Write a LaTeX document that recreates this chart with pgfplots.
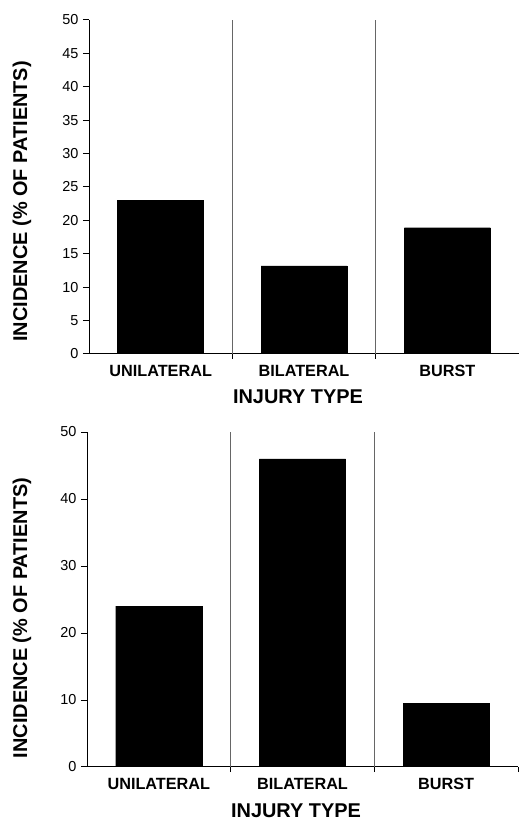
\documentclass[border=0pt]{standalone}
\usepackage{pgfplots}
\pgfplotsset{compat=1.18}
\usepackage{fontspec}
\setmainfont{Liberation Sans}

\pgfplotsset{
  myaxis/.style={
    scale only axis, anchor=south west,
    axis lines*=left,
    axis line style={line width=1bp, black},
    ybar, bar width=0.6,
    xmin=0.5, xmax=3.5, ymin=0, ymax=50,
    xtick={1,2,3},
    xticklabels={UNILATERAL,BILATERAL,BURST},
    major x tick style={draw=none},
    minor xtick={1.5,2.5,3.5},
    minor x tick style={draw=black, line width=1bp},
    minor tick length=5bp,
    extra x ticks={1.5,2.5},
    extra x tick labels={},
    extra x tick style={grid=major, major grid style={black!60, line width=0.6bp}},
    tick align=outside,
    major tick length=6bp,
    major y tick style={black, line width=1bp},
    /pgf/number format/assume math mode=true,
    yticklabel style={font=\fontsize{14.5}{16}\selectfont, xshift=-1bp},
    xticklabel style={font=\bfseries\fontsize{16.3}{19}\selectfont, yshift=-2bp},
    xlabel={INJURY TYPE},
    ylabel={INCIDENCE (\% OF PATIENTS)},
    xlabel style={font=\bfseries\fontsize{20}{24}\selectfont, anchor=center},
    ylabel style={font=\bfseries\fontsize{20}{24}\selectfont, anchor=center},
  }
}

\begin{document}
\begin{tikzpicture}
\path[use as bounding box] (0bp,0bp) rectangle (519bp,822bp);

% Top panel
\begin{axis}[myaxis,
  at={(89bp,468bp)}, width=430bp, height=334bp,
  ytick={0,5,10,15,20,25,30,35,40,45,50},
  xlabel style={at={(axis description cs:0.486,-0.129)}},
  ylabel style={at={(axis description cs:-0.156,0.457)}},
]
\addplot[fill=black, draw=black] coordinates {(1,23.0) (2,13.2) (3,18.9)};
\end{axis}

% Bottom panel
\begin{axis}[myaxis,
  at={(87bp,55bp)}, width=431bp, height=335bp,
  ytick={0,10,20,30,40,50},
  xlabel style={at={(axis description cs:0.485,-0.131)}},
  ylabel style={at={(axis description cs:-0.151,0.445)}},
]
\addplot[fill=black, draw=black] coordinates {(1,24.0) (2,46.0) (3,9.5)};
\end{axis}
\end{tikzpicture}
\end{document}
